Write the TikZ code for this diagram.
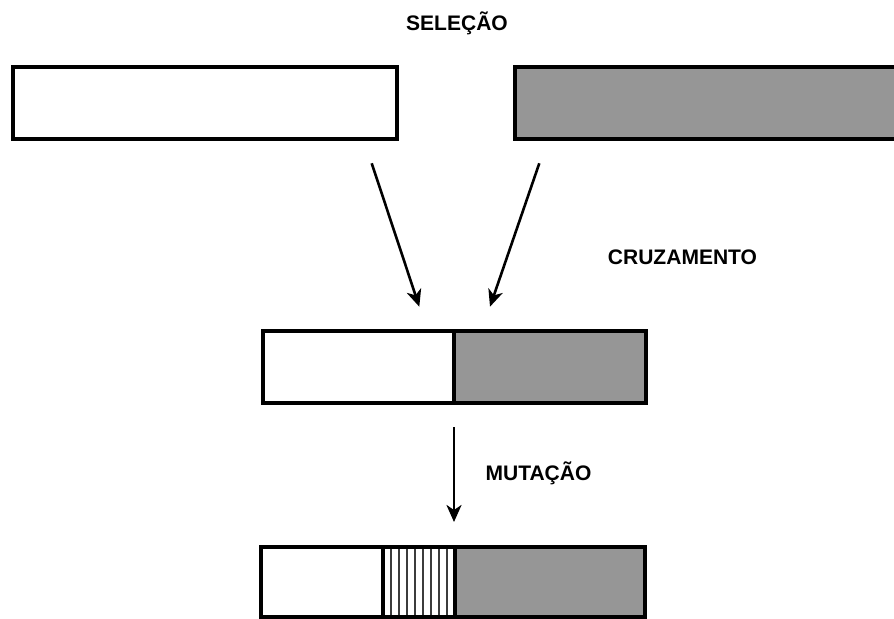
\documentclass[tikz,border=0pt]{standalone}
\usepackage{fontspec}
\setmainfont{Liberation Sans}
\usetikzlibrary{arrows.meta,calc}
\definecolor{chromgray}{RGB}{150,150,150}
\definecolor{hatchgray}{RGB}{60,60,60}
\begin{document}
\begin{tikzpicture}[x=1bp,y=-1bp,
  gene/.style={draw=black,line width=3.8bp,inner sep=0pt,outer sep=0pt,anchor=north west},
  lbl/.style={font=\fontsize{21.1pt}{25pt}\selectfont\bfseries,anchor=base,inner sep=0pt},
  arr/.style={line width=2.6bp,-{Stealth[length=17bp,width=15bp,inset=5bp]}},
  hatchline/.style={draw=hatchgray,line width=1.5bp}]
\useasboundingbox (0,0) rectangle (894,619);
% top parents
\node[gene,fill=white,minimum width=384.3bp,minimum height=71.7bp] (p1) at (12.7,67) {};
\node[gene,fill=chromgray,minimum width=384.3bp,minimum height=71.7bp] (p2) at (514.7,67) {};
% crossover child
\node[gene,fill=white,minimum width=191.2bp,minimum height=72.4bp] (c1) at (262.8,330.8) {};
\node[gene,fill=chromgray,minimum width=192.2bp,minimum height=72.4bp] (c2) at (454,330.8) {};
% mutated child
\node[gene,fill=white,minimum width=122bp,minimum height=70bp] (m1) at (261,547) {};
\node[gene,fill=white,minimum width=72bp,minimum height=70bp] (m2) at (383,547) {};
\node[gene,fill=chromgray,minimum width=190bp,minimum height=70bp] (m3) at (455,547) {};
\foreach \k in {1,...,8}{
  \draw[hatchline] ($(m2.north west)+(8*\k,2)$) -- ($(m2.south west)+(8*\k,-2)$);
}
\draw[line width=3.8bp] (m2.north west) rectangle (m2.south east);
% labels
\node[lbl] (sel) at (457,30.7) {SELEÇÃO};
\node[lbl] (cruz) at (682.5,264.5) {CRUZAMENTO};
\node[lbl] (mut) at (538.5,480.5) {MUTAÇÃO};
% arrows
\coordinate (a1s) at (371.7,163.3);
\coordinate (a1e) at (419.3,306.7);
\coordinate (a2s) at (539.3,163.3);
\coordinate (a2e) at (490,306.7);
\coordinate (a3s) at (454,427);
\coordinate (a3e) at (454,522);
\draw[arr] (a1s) -- (a1e);
\draw[arr] (a2s) -- (a2e);
\draw[arr] (a3s) -- (a3e);
\end{tikzpicture}
\end{document}
